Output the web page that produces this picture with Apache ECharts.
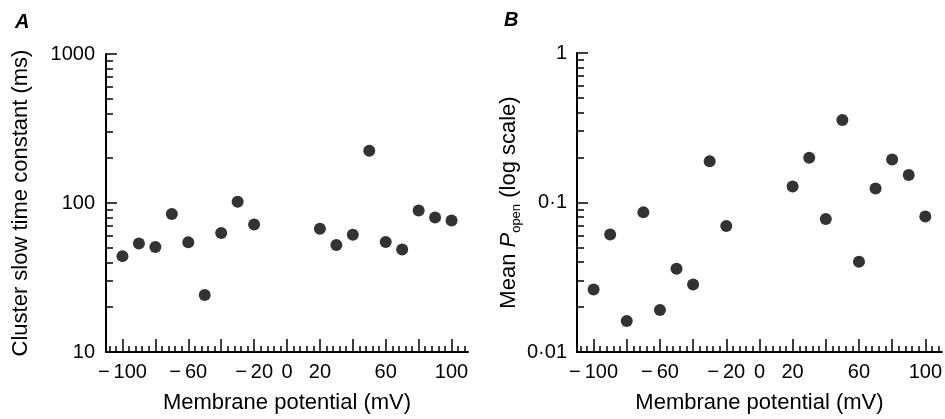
<!DOCTYPE html>
<html><head><meta charset="utf-8">
<script src="https://cdn.jsdelivr.net/npm/echarts@6/dist/echarts.min.js"></script>
<style>html,body{margin:0;padding:0;background:#fff}#c{width:945px;height:419px}</style>
</head><body><div id="c"></div>
<script>
// ---- data ----
const potentials = [-100,-90,-80,-70,-60,-50,-40,-30,-20,20,30,40,50,60,70,80,90,100];
const tauSlow = [44,53.4,50.7,84.5,54.5,24.1,62.8,102,71.8,67.1,52.3,61.2,224,54.7,48.7,88.9,79.8,76.2];
const pOpen = [0.0262,0.061,0.0161,0.0859,0.0191,0.0361,0.0283,0.189,0.0697,0.128,0.199,0.0775,0.356,0.0402,0.124,0.194,0.153,0.0807];
const xMajorTicks = [-100,-80,-60,-40,-20,0,20,40,60,80,100];
const xTickLabels = [-100,-60,-20,0,20,60,100];
const yTickLabelsA = [10,100,1000];
const yTickLabelsB = [0.01,0.1,1];

const xMinorTicks = [];
for (let v = -108; v <= 108; v += 4) xMinorTicks.push(v);
function logMinor(lo, decades) {
  const out = [];
  for (let d = 0; d < decades; d++) {
    const base = lo * Math.pow(10, d);
    for (let k = 2; k <= 9; k++) out.push(+(base * k).toPrecision(6));
  }
  return out;
}
const yMinorA = logMinor(10, 2);
const yMinorB = logMinor(0.01, 2);

const FONT = "'Liberation Sans', Arial, Helvetica, sans-serif";
const black = '#000';

const chart = echarts.init(document.getElementById('c'), null, {renderer: 'canvas'});

function fmtX(v) { return v < 0 ? '\u2212\u2009' + Math.abs(v) : String(v); }
function fmtY(v) { return String(v).replace('.', '\u00b7'); }

const grids = [
  {left: 106, top: 54, width: 362, height: 301},
  {left: 577, top: 53, width: 365, height: 302}
];

const xAxes = [], yAxes = [];
[0, 1].forEach(g => {
  xAxes.push({
    type: 'value', gridIndex: g, min: -110, max: 110,
    name: 'Membrane potential (mV)', nameLocation: 'middle', nameGap: 40,
    nameTextStyle: {fontFamily: FONT, fontSize: 22, color: black},
    axisLine: {onZero: false, lineStyle: {color: black, width: 2}},
    axisTick: {inside: true, length: 13, customValues: xMajorTicks, lineStyle: {color: black, width: 1.5}},
    axisLabel: {customValues: xTickLabels, formatter: fmtX, margin: 10, fontFamily: FONT, fontSize: 20, color: black},
    splitLine: {show: false}
  });
  xAxes.push({
    type: 'value', gridIndex: g, min: -110, max: 110, position: 'bottom',
    axisLine: {show: false, onZero: false},
    axisTick: {show: true, inside: true, length: 6, customValues: xMinorTicks, lineStyle: {color: black, width: 1.5}},
    axisLabel: {show: false}, splitLine: {show: false}
  });
});

yAxes.push({
  type: 'log', logBase: 10, gridIndex: 0, min: 10, max: 1000,
  name: 'Cluster slow time constant (ms)', nameLocation: 'middle', nameGap: 74,
  nameTextStyle: {fontFamily: FONT, fontSize: 22, color: black},
  axisLine: {onZero: false, lineStyle: {color: black, width: 2}},
  axisTick: {inside: true, length: 11, customValues: yTickLabelsA, lineStyle: {color: black, width: 1.5}},
  axisLabel: {customValues: yTickLabelsA, formatter: fmtY, margin: 11, fontFamily: FONT, fontSize: 20, color: black},
  splitLine: {show: false}
});
yAxes.push({
  type: 'log', logBase: 10, gridIndex: 0, min: 10, max: 1000, position: 'left',
  axisLine: {show: false, onZero: false},
  axisTick: {show: true, inside: true, length: 7, customValues: yMinorA, lineStyle: {color: black, width: 1.5}},
  axisLabel: {show: false}, splitLine: {show: false}
});
yAxes.push({
  type: 'log', logBase: 10, gridIndex: 1, min: 0.01, max: 1,
  name: '{t|Mean }{i|P}{s|open}{t| (log scale)}', nameLocation: 'middle', nameGap: 50,
  nameTextStyle: {fontFamily: FONT, fontSize: 22, color: black,
    rich: {
      t: {fontFamily: FONT, fontSize: 22, color: black, verticalAlign: 'bottom', lineHeight: 24},
      i: {fontFamily: FONT, fontSize: 22, fontStyle: 'italic', color: black, verticalAlign: 'bottom', lineHeight: 24},
      s: {fontFamily: FONT, fontSize: 13, color: black, verticalAlign: 'bottom', lineHeight: 14, padding: [0, 0, -3, 0]}
    }},
  axisLine: {onZero: false, lineStyle: {color: black, width: 2}},
  axisTick: {inside: true, length: 11, customValues: yTickLabelsB, lineStyle: {color: black, width: 1.5}},
  axisLabel: {customValues: yTickLabelsB, formatter: fmtY, margin: 10, fontFamily: FONT, fontSize: 20, color: black},
  splitLine: {show: false}
});
yAxes.push({
  type: 'log', logBase: 10, gridIndex: 1, min: 0.01, max: 1, position: 'left',
  axisLine: {show: false, onZero: false},
  axisTick: {show: true, inside: true, length: 7, customValues: yMinorB, lineStyle: {color: black, width: 1.5}},
  axisLabel: {show: false}, splitLine: {show: false}
});

chart.setOption({
  backgroundColor: '#fff',
  animation: false,
  title: [
    {text: 'A', left: 15, top: 12, padding: 0, textStyle: {fontFamily: FONT, fontSize: 20, fontStyle: 'italic', fontWeight: 'bold', color: black}},
    {text: 'B', left: 504, top: 10, padding: 0, textStyle: {fontFamily: FONT, fontSize: 20, fontStyle: 'italic', fontWeight: 'bold', color: black}}
  ],
  grid: grids,
  xAxis: xAxes,
  yAxis: yAxes,
  series: [
    {type: 'scatter', xAxisIndex: 0, yAxisIndex: 0, symbol: 'circle', symbolSize: 12,
     itemStyle: {color: black}, data: potentials.map((x, i) => [x, tauSlow[i]])},
    {type: 'scatter', xAxisIndex: 2, yAxisIndex: 2, symbol: 'circle', symbolSize: 12,
     itemStyle: {color: black}, data: potentials.map((x, i) => [x, pOpen[i]])}
  ]
});
</script>
</body></html>
